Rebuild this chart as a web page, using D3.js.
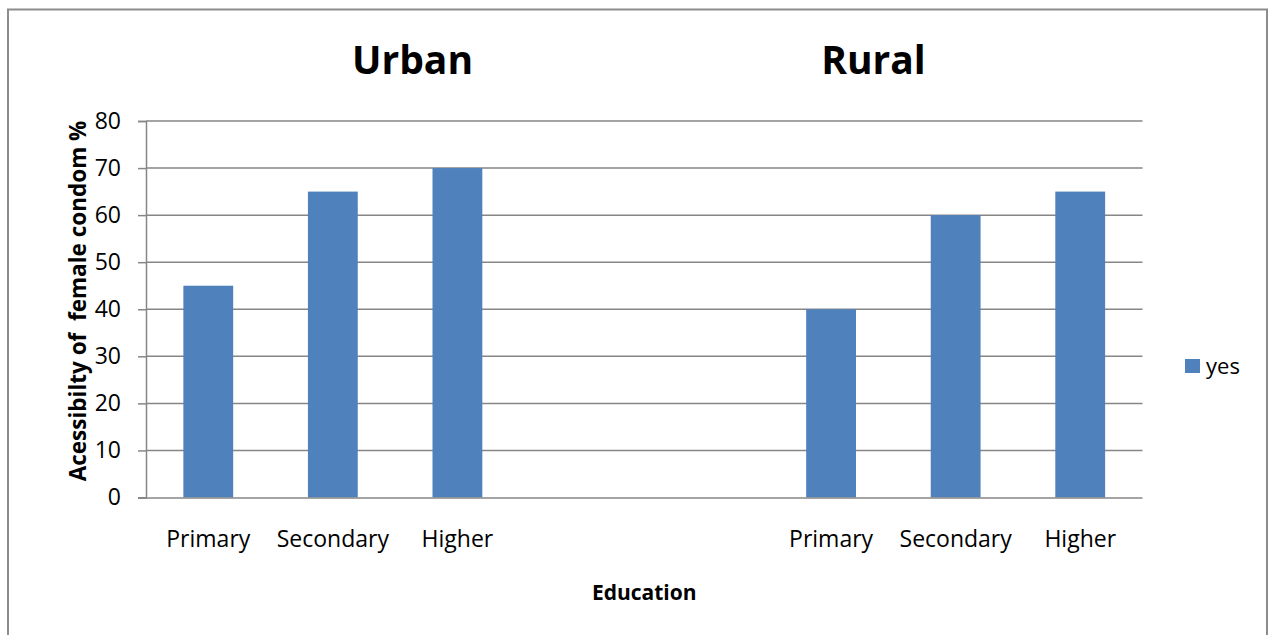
<!DOCTYPE html>
<html>
<head>
<meta charset="utf-8">
<script src="https://cdn.jsdelivr.net/npm/d3@7"></script>
<style>
  html, body { margin: 0; padding: 0; background: #fff; }
  svg { display: block; }
  text { font-family: "Open Sans", "Noto Sans", sans-serif; fill: #000; }
</style>
</head>
<body>
<svg id="chart" width="1268" height="635"></svg>
<script>
// Accessibility of the female condom by education level, urban vs rural
const groups = ["Urban", "Rural"];
const levels = ["Primary", "Secondary", "Higher"];
const urbanValues = [45, 65, 70];
const ruralValues = [40, 60, 65];
const yTicks = [0, 10, 20, 30, 40, 50, 60, 70, 80];
const seriesName = "yes";

// Category slots along the x axis: urban levels, two empty slots, rural levels
const slots = [
  ...levels.map((l, i) => ({ key: "Urban-" + l, label: l, value: urbanValues[i] })),
  { key: "gap-1", label: "", value: null },
  { key: "gap-2", label: "", value: null },
  ...levels.map((l, i) => ({ key: "Rural-" + l, label: l, value: ruralValues[i] }))
];

const svg = d3.select("#chart");
const W = 1268, H = 635;
const plot = { left: 146, right: 1142.5, top: 121, bottom: 497.5 };
const gridColor = "#868686";
const barColor = "#4F81BD";

// Outer frame (bottom edge lies below the visible area)
svg.append("path")
  .attr("d", `M8,${H + 5} V9.5 H1267 V${H + 5}`)
  .attr("fill", "none").attr("stroke", "#8c8c8c").attr("stroke-width", 2);

const x = d3.scaleBand()
  .domain(slots.map(d => d.key))
  .range([plot.left, plot.right])
  .paddingInner(0.6).paddingOuter(0.3);

const y = d3.scaleLinear().domain([0, 80]).range([plot.bottom, plot.top]);

// Horizontal gridlines
svg.append("g").selectAll("line")
  .data(yTicks.filter(t => t > 0))
  .join("line")
  .attr("x1", plot.left).attr("x2", plot.right)
  .attr("y1", d => y(d)).attr("y2", d => y(d))
  .attr("stroke", gridColor).attr("stroke-width", 1.5);

// Bars
svg.append("g").selectAll("rect")
  .data(slots.filter(d => d.value !== null))
  .join("rect")
  .attr("x", d => x(d.key))
  .attr("width", x.bandwidth())
  .attr("y", d => y(d.value))
  .attr("height", d => y(0) - y(d.value))
  .attr("fill", barColor);

// Y axis
const yAxis = svg.append("g")
  .attr("transform", `translate(${plot.left},0)`)
  .call(d3.axisLeft(y).tickValues(yTicks).tickSize(8).tickPadding(17));
yAxis.select(".domain").attr("stroke", gridColor).attr("stroke-width", 1.5);
yAxis.selectAll(".tick line").attr("stroke", gridColor).attr("stroke-width", 1.5);
yAxis.selectAll(".tick text")
  .attr("font-size", 23).attr("font-family", '"Open Sans", sans-serif').attr("fill", "#000");

// X axis (baseline + category labels, no tick marks)
const xAxis = svg.append("g")
  .attr("transform", `translate(0,${plot.bottom})`)
  .call(d3.axisBottom(x).tickSize(0).tickPadding(33)
    .tickFormat(k => slots.find(s => s.key === k).label));
xAxis.select(".domain")
  .attr("d", `M${plot.left - 8},0.5H${plot.right}`)
  .attr("stroke", gridColor).attr("stroke-width", 1.5);
xAxis.selectAll(".tick text")
  .attr("font-size", 23).attr("font-family", '"Open Sans", sans-serif').attr("fill", "#000");

// Group titles above the plot area
const titleX = { Urban: 412.5, Rural: 873.5 };
groups.forEach(g => {
  svg.append("text")
    .attr("x", titleX[g]).attr("y", 74)
    .attr("text-anchor", "middle")
    .attr("font-size", 39).attr("font-weight", 700)
    .text(g);
});

// Axis titles
svg.append("text")
  .attr("x", (plot.left + plot.right) / 2).attr("y", 600)
  .attr("text-anchor", "middle")
  .attr("font-size", 21).attr("font-weight", 700)
  .text("Education");

svg.append("text")
  .attr("transform", `translate(86,301) rotate(-90)`)
  .attr("text-anchor", "middle")
  .attr("font-size", 22.5).attr("font-weight", 700)
  .attr("xml:space", "preserve")
  .text("Acessibilty of  female condom %");

// Legend
const legend = svg.append("g").attr("transform", "translate(1185,359)");
legend.append("rect").attr("width", 15).attr("height", 14).attr("fill", barColor);
legend.append("text").attr("x", 21).attr("y", 7).attr("dy", "0.35em")
  .attr("font-size", 22).text(seriesName);
</script>
</body>
</html>
